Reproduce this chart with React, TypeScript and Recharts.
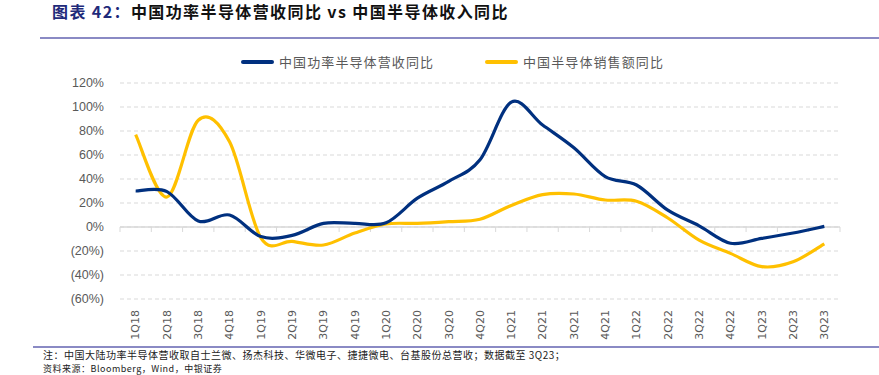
import React from "react";
import { LineChart, Line, XAxis, YAxis, CartesianGrid, ReferenceLine } from "recharts";

const quarters = [
  "1Q18", "2Q18", "3Q18", "4Q18",
  "1Q19", "2Q19", "3Q19", "4Q19",
  "1Q20", "2Q20", "3Q20", "4Q20",
  "1Q21", "2Q21", "3Q21", "4Q21",
  "1Q22", "2Q22", "3Q22", "4Q22",
  "1Q23", "2Q23", "3Q23",
];

// 中国功率半导体营收同比 (%)
const powerSemiYoY = [
  30, 29.5, 5, 10,
  -8, -7, 3, 3,
  3.5, 24, 38, 56,
  104, 85, 66, 42,
  35, 14, 1, -13.5,
  -9.5, -5, 0.5,
];

// 中国半导体销售额同比 (%)
const semiSalesYoY = [
  77, 25, 89, 71,
  -9, -12, -15, -5,
  2.5, 3, 4.5, 6.5,
  18, 27, 27.5, 22.5,
  21.5, 7.5, -11, -22,
  -33, -29, -14,
];

const yTicks = [-60, -40, -20, 0, 20, 40, 60, 80, 100, 120];

const NAVY = "#00307F";
const GOLD = "#FFC000";
const GRID = "#D9D9D9";
const TEXT = "#595959";

const PLOT_W = 879 - 120 - 39;
const HALF_STEP = PLOT_W / quarters.length / 2;

const chartData = quarters.map((q, i) => ({
  q,
  power: powerSemiYoY[i],
  sales: semiSalesYoY[i],
}));

const fmtPct = (v: number) => (v < 0 ? `(${-v}%)` : `${v}%`);

// Excel-style smoothed line (cardinal spline through the points)
function excelCurve(context: any) {
  let pts: number[][] = [];
  return {
    areaStart() {},
    areaEnd() {},
    lineStart() {
      pts = [];
    },
    point(x: number, y: number) {
      pts.push([+x, +y]);
    },
    lineEnd() {
      const n = pts.length;
      if (!n) return;
      context.moveTo(pts[0][0], pts[0][1]);
      for (let i = 0; i < n - 1; i++) {
        const p0 = pts[Math.max(i - 1, 0)];
        const p1 = pts[i];
        const p2 = pts[i + 1];
        const p3 = pts[Math.min(i + 2, n - 1)];
        context.bezierCurveTo(
          p1[0] + (p2[0] - p0[0]) / 6,
          p1[1] + (p2[1] - p0[1]) / 6,
          p2[0] - (p3[0] - p1[0]) / 6,
          p2[1] - (p3[1] - p1[1]) / 6,
          p2[0],
          p2[1]
        );
      }
    },
  };
}

function ZeroAxis(props: any) {
  const { x1, y1, x2 } = props;
  if (x1 == null) return null;
  const n = quarters.length;
  const step = (x2 - x1) / n;
  return (
    <g>
      <line x1={x1} y1={y1} x2={x2} y2={y1} stroke={GRID} strokeWidth={1.5} />
      {Array.from({ length: n + 1 }, (_, i) => (
        <line
          key={i}
          x1={x1 + i * step}
          x2={x1 + i * step}
          y1={y1}
          y2={y1 + 5}
          stroke={GRID}
          strokeWidth={1}
        />
      ))}
    </g>
  );
}

function QuarterTick(props: any) {
  const { x, y, payload } = props;
  const ty = y + 9;
  return (
    <text
      x={x}
      y={ty}
      dy="0.35em"
      transform={`rotate(-90 ${x} ${ty})`}
      textAnchor="end"
      fill={TEXT}
      fontSize={11}
      fontFamily="DejaVu Sans, sans-serif"
    >
      {payload.value}
    </text>
  );
}

function LegendItem({ color, label, left }: { color: string; label: string; left: number }) {
  return (
    <div style={{ position: "absolute", left, top: 53, display: "flex", alignItems: "center" }}>
      <div style={{ width: 33, height: 3.5, background: color, borderRadius: 2, marginRight: 5 }} />
      <span style={{ fontSize: 13, letterSpacing: 1.1, color: TEXT, lineHeight: "18px" }}>{label}</span>
    </div>
  );
}

export default function App() {
  return (
    <div
      style={{
        position: "absolute",
        left: 0,
        top: 0,
        width: 879,
        height: 375,
        overflow: "hidden",
        background: "#fff",
        fontFamily: "'Noto Sans CJK SC', 'Noto Sans', sans-serif",
      }}
    >
      <div
        style={{
          position: "absolute",
          left: 52,
          top: 0,
          fontSize: 16,
          fontWeight: 700,
          letterSpacing: 1.4,
          lineHeight: "22px",
          whiteSpace: "nowrap",
          color: "#111",
        }}
      >
        <span style={{ color: "#1F2A7A" }}>图表 42：</span>
        中国功率半导体营收同比 vs 中国半导体收入同比
      </div>
      <div style={{ position: "absolute", left: 40, top: 37, width: 839, height: 1.5, background: "#8A8AC4" }} />

      <LegendItem color={NAVY} label="中国功率半导体营收同比" left={241} />
      <LegendItem color={GOLD} label="中国半导体销售额同比" left={485} />

      <div style={{ position: "absolute", left: 0, top: 0 }}>
        <LineChart
          width={879}
          height={345}
          data={chartData}
          margin={{ top: 83, right: 39, left: 0, bottom: 6 }}
        >
          <CartesianGrid vertical={false} stroke={GRID} strokeDasharray="4 3" />
          <XAxis
            dataKey="q"
            height={40}
            interval={0}
            padding={{ left: HALF_STEP, right: HALF_STEP }}
            axisLine={false}
            tickLine={false}
            tickSize={0}
            tick={<QuarterTick />}
          />
          <YAxis
            width={120}
            domain={[-60, 120]}
            ticks={yTicks}
            interval={0}
            axisLine={false}
            tickLine={false}
            tickSize={0}
            tickMargin={16}
            tickFormatter={fmtPct}
            tick={{ fill: TEXT, fontSize: 12.5, fontFamily: "Liberation Sans, Arial, sans-serif" }}
          />
          <ReferenceLine y={0} shape={<ZeroAxis />} />
          <Line
            dataKey="sales"
            stroke={GOLD}
            strokeWidth={3.2}
            type={excelCurve as any}
            dot={false}
            activeDot={false}
            isAnimationActive={false}
          />
          <Line
            dataKey="power"
            stroke={NAVY}
            strokeWidth={3.2}
            type={excelCurve as any}
            dot={false}
            activeDot={false}
            isAnimationActive={false}
          />
        </LineChart>
      </div>

      <div style={{ position: "absolute", left: 33, top: 346, width: 846, height: 1.5, background: "#8A8AC4" }} />
      <div
        style={{
          position: "absolute",
          left: 43,
          top: 348,
          fontSize: 10,
          letterSpacing: 0.5,
          color: "#222",
          lineHeight: "14px",
          whiteSpace: "nowrap",
        }}
      >
        注：中国大陆功率半导体营收取自士兰微、扬杰科技、华微电子、捷捷微电、台基股份总营收；数据截至 3Q23；
      </div>
      <div
        style={{
          position: "absolute",
          left: 43,
          top: 362,
          fontSize: 9,
          letterSpacing: 0.5,
          color: "#222",
          lineHeight: "13px",
          whiteSpace: "nowrap",
        }}
      >
        资料来源：Bloomberg，Wind，中银证券
      </div>
    </div>
  );
}
